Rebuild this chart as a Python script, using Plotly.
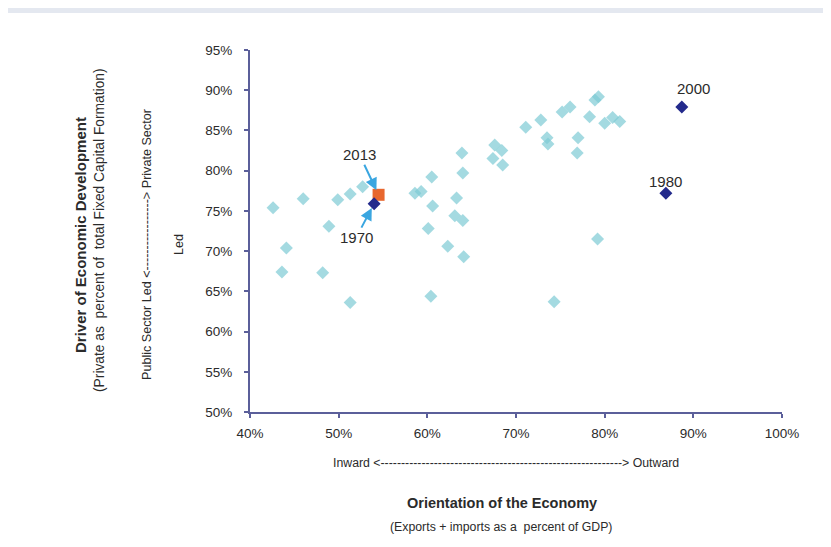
import plotly.graph_objects as go

# ---------------- data ----------------
openness = [42.6, 44.1, 43.6, 46.0, 48.2, 48.9, 49.9, 51.3, 51.3, 52.7,
            58.6, 59.3, 60.5, 60.6, 60.1, 60.4, 63.3, 63.1, 64.0, 62.3,
            64.1, 63.9, 64.0, 67.6, 68.4, 67.4, 68.5, 71.1, 72.8, 73.5,
            73.6, 75.2, 76.1, 77.0, 76.9, 78.9, 79.3, 78.3, 80.0, 80.9,
            81.7, 79.2, 74.3]
private_share = [75.4, 70.4, 67.4, 76.5, 67.3, 73.1, 76.4, 77.1, 63.6, 78.0,
                 77.2, 77.4, 79.2, 75.6, 72.8, 64.4, 76.6, 74.4, 73.8, 70.6,
                 69.3, 82.2, 79.7, 83.2, 82.5, 81.5, 80.7, 85.4, 86.3, 84.1,
                 83.3, 87.3, 87.9, 84.1, 82.2, 88.8, 89.2, 86.7, 85.9, 86.6,
                 86.1, 71.5, 63.7]

hl_years = ["1970", "1980", "2000"]
hl_open = [54.0, 86.9, 88.7]
hl_private = [75.9, 77.2, 87.9]

latest_year = ["2013"]
latest_open = [54.5]
latest_private = [77.0]

x_ticks = [40, 50, 60, 70, 80, 90, 100]
x_ticktext = ["40%", "50%", "60%", "70%", "80%", "90%", "100%"]
y_ticks = [50, 55, 60, 65, 70, 75, 80, 85, 90, 95]
y_ticktext = ["50%", "55%", "60%", "65%", "70%", "75%", "80%", "85%", "90%", "95%"]

# ---------------- layout geometry ----------------
OFF = 8                      # page body margin
W, H = 823, 539
ML, MT = 242, 42
PW, PH = 532, 362
MR, MB = W - ML - PW, H - MT - PH


def px_x(sx):
    return (sx - OFF - ML) / PW


def px_y(sy):
    return (MT + PH - (sy - OFF)) / PH


FONT = "Liberation Sans, Arial, sans-serif"
TXT = "#2b2b2b"
AXC = "#5b5f9a"

fig = go.Figure()

fig.add_trace(go.Scatter(
    x=openness, y=private_share, mode="markers",
    marker=dict(symbol="diamond", size=10, color="rgba(125,203,212,0.7)",
                line=dict(width=0)),
    cliponaxis=False, hoverinfo="skip"))

fig.add_trace(go.Scatter(
    x=latest_open, y=latest_private, mode="markers",
    marker=dict(symbol="square", size=12, color="#e8672e", line=dict(width=0)),
    cliponaxis=False))

fig.add_trace(go.Scatter(
    x=hl_open, y=hl_private, mode="markers",
    marker=dict(symbol="diamond", size=10, color="#232a8c", line=dict(width=0)),
    cliponaxis=False))

annotations = []
lab_font = dict(family=FONT, size=15, color=TXT)

annotations.append(dict(x=latest_open[0], y=latest_private[0], xref="x", yref="y",
                        text=latest_year[0], showarrow=True, ax=-19, ay=-40,
                        arrowhead=2, arrowsize=1.2, arrowwidth=2, arrowcolor="#3aa6e0",
                        standoff=5, font=lab_font))
annotations.append(dict(x=hl_open[0], y=hl_private[0], xref="x", yref="y",
                        text=hl_years[0], showarrow=True, ax=-18, ay=34,
                        arrowhead=2, arrowsize=1.2, arrowwidth=2, arrowcolor="#3aa6e0",
                        standoff=5, font=lab_font))
annotations.append(dict(x=hl_open[1], y=hl_private[1], xref="x", yref="y",
                        text=hl_years[1], showarrow=False, yshift=12, xshift=0,
                        font=lab_font))
annotations.append(dict(x=hl_open[2], y=hl_private[2], xref="x", yref="y",
                        text=hl_years[2], showarrow=False, yshift=19, xshift=12,
                        font=lab_font))

# y-axis titles (rotated)
annotations.append(dict(xref="paper", yref="paper", x=px_x(80), y=px_y(235),
                        text="<b>Driver of Economic Development</b>", textangle=-90,
                        showarrow=False, xanchor="center", yanchor="middle",
                        font=dict(family=FONT, size=15, color=TXT)))
annotations.append(dict(xref="paper", yref="paper", x=px_x(100), y=px_y(230),
                        text="(Private as  percent of  total Fixed Capital Formation)",
                        textangle=-90, showarrow=False, xanchor="center", yanchor="middle",
                        font=dict(family=FONT, size=13.8, color=TXT)))
annotations.append(dict(xref="paper", yref="paper", x=px_x(147), y=px_y(245),
                        text="Public Sector Led <" + "-" * 17 + "> Private Sector",
                        textangle=-90, showarrow=False, xanchor="center", yanchor="middle",
                        font=dict(family=FONT, size=12.6, color=TXT)))
annotations.append(dict(xref="paper", yref="paper", x=px_x(179), y=px_y(245),
                        text="Led", textangle=-90, showarrow=False,
                        xanchor="center", yanchor="middle",
                        font=dict(family=FONT, size=12.6, color=TXT)))

# x-axis titles
annotations.append(dict(xref="paper", yref="paper", x=px_x(506), y=px_y(463),
                        text="Inward <" + "-" * 59 + "> Outward",
                        showarrow=False, xanchor="center", yanchor="middle",
                        font=dict(family=FONT, size=12.3, color=TXT)))
annotations.append(dict(xref="paper", yref="paper", x=px_x(502), y=px_y(503),
                        text="<b>Orientation of the Economy</b>",
                        showarrow=False, xanchor="center", yanchor="middle",
                        font=dict(family=FONT, size=14.5, color=TXT)))
annotations.append(dict(xref="paper", yref="paper", x=px_x(501), y=px_y(527),
                        text="(Exports + imports as a  percent of GDP)",
                        showarrow=False, xanchor="center", yanchor="middle",
                        font=dict(family=FONT, size=12.3, color=TXT)))

# white panel inside the light frame (frame visible along the top)
shapes = [dict(type="rect", xref="paper", yref="paper", layer="below",
               x0=px_x(OFF - 5), x1=px_x(OFF + W + 5), y0=px_y(OFF + H + 5), y1=px_y(13),
               fillcolor="white", line=dict(width=0))]

fig.update_layout(
    width=W, height=H, autosize=False,
    margin=dict(l=ML, r=MR, t=MT, b=MB, pad=0),
    paper_bgcolor="#e4e8f0", plot_bgcolor="white",
    showlegend=False,
    annotations=annotations, shapes=shapes,
    xaxis=dict(range=[40, 100], tickmode="array", tickvals=x_ticks, ticktext=x_ticktext,
               showline=True, linecolor=AXC, linewidth=2, ticks="outside",
               ticklen=4, tickcolor=AXC, tickwidth=1.5, showgrid=False, zeroline=False,
               tickfont=dict(family=FONT, size=13.5, color=TXT), ticklabelstandoff=4),
    yaxis=dict(range=[50, 95], tickmode="array", tickvals=y_ticks, ticktext=y_ticktext,
               showline=True, linecolor=AXC, linewidth=2, ticks="outside",
               ticklen=4, tickcolor=AXC, tickwidth=1.5, showgrid=False, zeroline=False,
               tickfont=dict(family=FONT, size=13.5, color=TXT), ticklabelstandoff=9),
)

fig.write_html("out.html")
